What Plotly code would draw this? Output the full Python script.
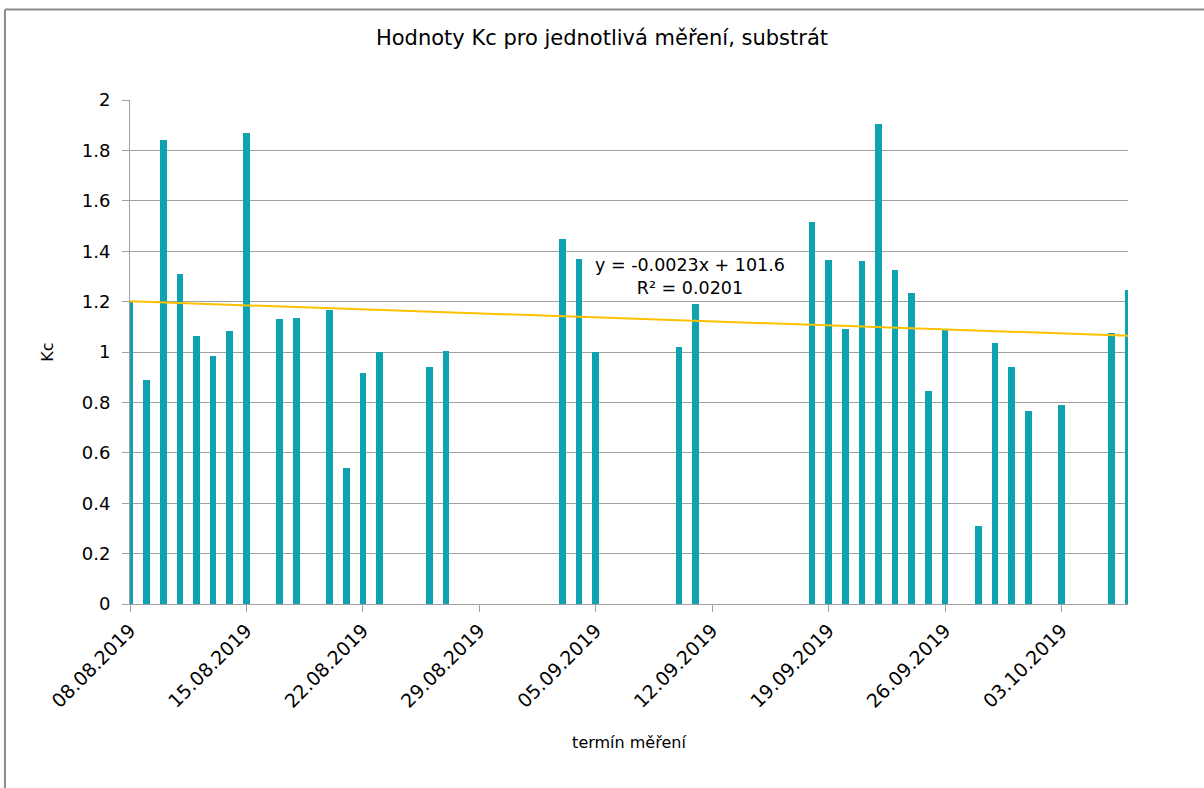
import numpy as np
import pandas as pd
import plotly.graph_objects as go

# Kc values per measurement date
dates = [
    "2019-08-08", "2019-08-09", "2019-08-10", "2019-08-11", "2019-08-12",
    "2019-08-13", "2019-08-14", "2019-08-15", "2019-08-17", "2019-08-18",
    "2019-08-20", "2019-08-21", "2019-08-22", "2019-08-23", "2019-08-26",
    "2019-08-27", "2019-09-03", "2019-09-04", "2019-09-05", "2019-09-10",
    "2019-09-11", "2019-09-18", "2019-09-19", "2019-09-20", "2019-09-21",
    "2019-09-22", "2019-09-23", "2019-09-24", "2019-09-25", "2019-09-26",
    "2019-09-28", "2019-09-29", "2019-09-30", "2019-10-01", "2019-10-03",
    "2019-10-06", "2019-10-07",
]
kc = [
    1.20, 0.89, 1.84, 1.31, 1.065,
    0.985, 1.085, 1.87, 1.13, 1.135,
    1.165, 0.54, 0.915, 1.00, 0.94,
    1.005, 1.45, 1.37, 1.00, 1.02,
    1.19, 1.515, 1.365, 1.09, 1.36,
    1.905, 1.325, 1.235, 0.845, 1.09,
    0.31, 1.035, 0.94, 0.765, 0.79,
    1.075, 1.245,
]

x_start, x_end = "2019-08-08", "2019-10-07"
tick_dates = pd.date_range(x_start, x_end, freq="7D")
tick_labels = [d.strftime("%d.%m.%Y") for d in tick_dates]

trend_text = "y = -0.0023x + 101.6<br>R² = 0.0201"

# linear trend (x in Excel serial days)
dt = pd.to_datetime(dates)
serial = (dt - pd.Timestamp("1899-12-30")).days.values.astype(float)
slope, intercept = np.polyfit(serial, np.array(kc), 1)
trend_x = pd.to_datetime([x_start, x_end])
trend_serial = (trend_x - pd.Timestamp("1899-12-30")).days.values.astype(float)
trend_y = slope * trend_serial + intercept

font_family = "DejaVu Sans, sans-serif"
grid_col = "#a0a0a0"

fig = go.Figure()
fig.add_trace(go.Bar(
    x=dates, y=kc,
    width=0.4 * 86400000,
    marker=dict(color="#0fa3b1", line=dict(width=0)),
    showlegend=False,
))
fig.add_trace(go.Scatter(
    x=trend_x, y=trend_y, mode="lines",
    line=dict(color="#ffc000", width=2),
    showlegend=False,
))

fig.add_annotation(
    x="2019-09-10 16:00", y=1.30, xref="x", yref="y",
    text=trend_text, showarrow=False,
    font=dict(size=17.5, color="#000000", family=font_family),
    align="center",
)

# outer chart frame
fig.add_shape(type="line", xref="paper", yref="paper",
              x0=-0.1253, y0=1.1796, x1=1.2, y1=1.1796,
              line=dict(color="#8c8c8c", width=2))
fig.add_shape(type="line", xref="paper", yref="paper",
              x0=-0.1253, y0=1.1796, x1=-0.1253, y1=-0.5,
              line=dict(color="#8c8c8c", width=2))

fig.update_layout(
    width=1204, height=788,
    margin=dict(l=130, r=76, t=100, b=184),
    paper_bgcolor="white", plot_bgcolor="white",
    font=dict(family=font_family, color="#000000"),
    title=dict(text="Hodnoty Kc pro jednotlivá měření, substrát",
               x=0.5, xanchor="center", y=0.952, yanchor="middle",
               font=dict(size=21, family=font_family)),
    bargap=0,
)
fig.update_xaxes(
    type="date", range=[x_start, x_end],
    tickvals=tick_dates, ticktext=tick_labels, tickangle=-45,
    tickfont=dict(size=19), ticks="outside", ticklen=7, tickcolor=grid_col,
    showline=True, linecolor=grid_col, linewidth=1,
    showgrid=False, zeroline=False,
    title=dict(text="termín měření", font=dict(size=16), standoff=26),
)
fig.update_yaxes(
    range=[0, 2], dtick=0.2, tick0=0,
    tickfont=dict(size=18), ticks="outside", ticklen=7, tickcolor=grid_col,
    ticklabelstandoff=8,
    showline=True, linecolor=grid_col, linewidth=1,
    showgrid=True, gridcolor=grid_col, gridwidth=1, zeroline=False,
    title=dict(text="Kc", font=dict(size=16), standoff=24),
)

fig.write_html("out.html")
